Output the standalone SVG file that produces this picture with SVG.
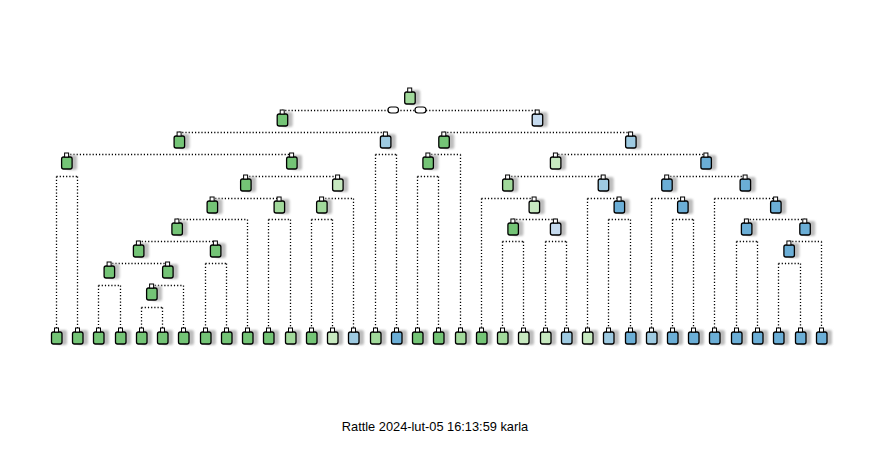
<svg xmlns="http://www.w3.org/2000/svg" xmlns:xlink="http://www.w3.org/1999/xlink" width="876" height="453" viewBox="0 0 876 453">
<style>
.edge{fill:none;stroke:#000;stroke-width:1.3;stroke-dasharray:1.2 2}
.g1{fill:#74C476}.g2{fill:#A1D99B}.g3{fill:#C7E9C0}
.b1{fill:#6BAED6}.b2{fill:#9ECAE1}.b3{fill:#C6DBEF}
.lab{fill:#fff;stroke:#000;stroke-width:1.2}
.title{font-family:"Liberation Sans",Arial,sans-serif;font-size:12.8px;fill:#000}
</style>
<defs>
<filter id="blur" x="-50%" y="-50%" width="200%" height="200%"><feGaussianBlur stdDeviation="0.9"/></filter>
<rect id="sh" x="0" y="2" width="10.5" height="15" rx="2" fill="#bdbdbd" filter="url(#blur)"/>
<rect id="box" x="-5" y="4" width="10.5" height="12" rx="2" stroke="#000" stroke-width="1.3"/>
<rect id="tab" x="-2" y="0" width="4" height="4" fill="#fff" stroke="#000" stroke-width="1"/>
</defs>
<rect width="876" height="453" fill="#fff"/>
<g id="connectors">
<path class="edge" d="M282 110.5H537 M179 132.5H385 M444 132.5H631 M67 154.5H292
M375.5 154.5H396.5 M375.5 154.5V328 M396.5 154.5V328
M428 154.5H460.5 M460.5 154.5V328
M555 154.5H706
M56.5 176.5H77.5 M56.5 176.5V328 M77.5 176.5V328
M246 176.5H338
M417.5 176.5H438.5 M417.5 176.5V328 M438.5 176.5V328
M508 176.5H603 M667 176.5H745
M212 198.5H279
M322 198.5H353.5 M353.5 198.5V328
M481.5 198.5H534 M481.5 198.5V328
M587.5 198.5H619 M587.5 198.5V328
M651.5 198.5H683 M651.5 198.5V328
M714.5 198.5H776 M714.5 198.5V328
M177 219.5H247.5 M247.5 219.5V328
M268.5 219.5H290.5 M268.5 219.5V328 M290.5 219.5V328
M311.5 219.5H332.5 M311.5 219.5V328 M332.5 219.5V328
M513 219.5H555.5
M608.5 219.5H630.5 M608.5 219.5V328 M630.5 219.5V328
M672.5 219.5H693.5 M672.5 219.5V328 M693.5 219.5V328
M746.5 219.5H805
M138.5 241.5H215.5
M502.5 241.5H523.5 M502.5 241.5V328 M523.5 241.5V328
M545.5 241.5H566.5 M545.5 241.5V328 M566.5 241.5V328
M736.5 241.5H757.5 M736.5 241.5V328 M757.5 241.5V328
M789 241.5H821.5 M821.5 241.5V328
M109 263.5H167.5
M205.5 263.5H226.5 M205.5 263.5V328 M226.5 263.5V328
M778.5 263.5H800.5 M778.5 263.5V328 M800.5 263.5V328
M98.5 285.5H120.5 M98.5 285.5V328 M120.5 285.5V328
M151.5 285.5H183.5 M183.5 285.5V328
M141.5 307.5H162.5 M141.5 307.5V328 M162.5 307.5V328"/>
</g>
<g id="root-split">
<rect class="lab" x="388" y="107" width="10.5" height="6" rx="3"/>
<rect class="lab" x="415" y="107" width="11" height="6" rx="3"/>
</g>
<g id="nodes">
<g id="nA" transform="translate(409.7 88)"><use href="#sh"/><use href="#box" class="g2"/><use href="#tab"/></g>
<g id="nB" transform="translate(282.2 110)"><use href="#sh"/><use href="#box" class="g1"/><use href="#tab"/></g>
<g id="nC" transform="translate(537.2 110)"><use href="#sh"/><use href="#box" class="b3"/><use href="#tab"/></g>
<g id="nD" transform="translate(179.1 132)"><use href="#sh"/><use href="#box" class="g1"/><use href="#tab"/></g>
<g id="nE" transform="translate(385.4 132)"><use href="#sh"/><use href="#box" class="b2"/><use href="#tab"/></g>
<g id="nF" transform="translate(443.8 132)"><use href="#sh"/><use href="#box" class="g1"/><use href="#tab"/></g>
<g id="nG" transform="translate(630.6 132)"><use href="#sh"/><use href="#box" class="b2"/><use href="#tab"/></g>
<g id="nH" transform="translate(66.6 153)"><use href="#sh"/><use href="#box" class="g1"/><use href="#tab"/></g>
<g id="nI" transform="translate(291.6 153)"><use href="#sh"/><use href="#box" class="g1"/><use href="#tab"/></g>
<g id="nJ" transform="translate(427.9 153)"><use href="#sh"/><use href="#box" class="g1"/><use href="#tab"/></g>
<g id="nK" transform="translate(555.4 153)"><use href="#sh"/><use href="#box" class="g3"/><use href="#tab"/></g>
<g id="nM" transform="translate(705.9 153)"><use href="#sh"/><use href="#box" class="b1"/><use href="#tab"/></g>
<g id="nN" transform="translate(245.6 175)"><use href="#sh"/><use href="#box" class="g1"/><use href="#tab"/></g>
<g id="nO" transform="translate(337.6 175)"><use href="#sh"/><use href="#box" class="g3"/><use href="#tab"/></g>
<g id="nP" transform="translate(507.6 175)"><use href="#sh"/><use href="#box" class="g2"/><use href="#tab"/></g>
<g id="nQ" transform="translate(603.2 175)"><use href="#sh"/><use href="#box" class="b2"/><use href="#tab"/></g>
<g id="nR" transform="translate(666.7 175)"><use href="#sh"/><use href="#box" class="b1"/><use href="#tab"/></g>
<g id="nS" transform="translate(745.1 175)"><use href="#sh"/><use href="#box" class="b1"/><use href="#tab"/></g>
<g id="nT" transform="translate(212.1 197)"><use href="#sh"/><use href="#box" class="g1"/><use href="#tab"/></g>
<g id="nU" transform="translate(279.1 197)"><use href="#sh"/><use href="#box" class="g2"/><use href="#tab"/></g>
<g id="nV" transform="translate(321.6 197)"><use href="#sh"/><use href="#box" class="g2"/><use href="#tab"/></g>
<g id="nW" transform="translate(534.1 197)"><use href="#sh"/><use href="#box" class="g3"/><use href="#tab"/></g>
<g id="nX" transform="translate(619.1 197)"><use href="#sh"/><use href="#box" class="b1"/><use href="#tab"/></g>
<g id="nY" transform="translate(682.6 197)"><use href="#sh"/><use href="#box" class="b1"/><use href="#tab"/></g>
<g id="nZ" transform="translate(775.6 197)"><use href="#sh"/><use href="#box" class="b1"/><use href="#tab"/></g>
<g id="nAA" transform="translate(176.9 219)"><use href="#sh"/><use href="#box" class="g1"/><use href="#tab"/></g>
<g id="nAB" transform="translate(512.9 219)"><use href="#sh"/><use href="#box" class="g1"/><use href="#tab"/></g>
<g id="nAC" transform="translate(555.4 219)"><use href="#sh"/><use href="#box" class="b3"/><use href="#tab"/></g>
<g id="nAD" transform="translate(746.4 219)"><use href="#sh"/><use href="#box" class="b1"/><use href="#tab"/></g>
<g id="nAE" transform="translate(804.8 219)"><use href="#sh"/><use href="#box" class="b1"/><use href="#tab"/></g>
<g id="nAF" transform="translate(138.4 241)"><use href="#sh"/><use href="#box" class="g1"/><use href="#tab"/></g>
<g id="nAG" transform="translate(215.4 241)"><use href="#sh"/><use href="#box" class="g1"/><use href="#tab"/></g>
<g id="nAH" transform="translate(788.9 241)"><use href="#sh"/><use href="#box" class="b1"/><use href="#tab"/></g>
<g id="nAI" transform="translate(109.1 262)"><use href="#sh"/><use href="#box" class="g1"/><use href="#tab"/></g>
<g id="nAJ" transform="translate(167.6 262)"><use href="#sh"/><use href="#box" class="g1"/><use href="#tab"/></g>
<g id="nAK" transform="translate(151.6 284)"><use href="#sh"/><use href="#box" class="g1"/><use href="#tab"/></g>
</g>
<g id="leaves">
<g id="L0" transform="translate(56.5 328)"><use href="#sh"/><use href="#box" class="g1"/><use href="#tab"/></g>
<g id="L1" transform="translate(77.5 328)"><use href="#sh"/><use href="#box" class="g1"/><use href="#tab"/></g>
<g id="L2" transform="translate(98.5 328)"><use href="#sh"/><use href="#box" class="g1"/><use href="#tab"/></g>
<g id="L3" transform="translate(120.5 328)"><use href="#sh"/><use href="#box" class="g1"/><use href="#tab"/></g>
<g id="L4" transform="translate(141.5 328)"><use href="#sh"/><use href="#box" class="g1"/><use href="#tab"/></g>
<g id="L5" transform="translate(162.5 328)"><use href="#sh"/><use href="#box" class="g1"/><use href="#tab"/></g>
<g id="L6" transform="translate(183.5 328)"><use href="#sh"/><use href="#box" class="g1"/><use href="#tab"/></g>
<g id="L7" transform="translate(205.5 328)"><use href="#sh"/><use href="#box" class="g1"/><use href="#tab"/></g>
<g id="L8" transform="translate(226.5 328)"><use href="#sh"/><use href="#box" class="g1"/><use href="#tab"/></g>
<g id="L9" transform="translate(247.5 328)"><use href="#sh"/><use href="#box" class="g1"/><use href="#tab"/></g>
<g id="L10" transform="translate(268.5 328)"><use href="#sh"/><use href="#box" class="g1"/><use href="#tab"/></g>
<g id="L11" transform="translate(290.5 328)"><use href="#sh"/><use href="#box" class="g2"/><use href="#tab"/></g>
<g id="L12" transform="translate(311.5 328)"><use href="#sh"/><use href="#box" class="g1"/><use href="#tab"/></g>
<g id="L13" transform="translate(332.5 328)"><use href="#sh"/><use href="#box" class="g3"/><use href="#tab"/></g>
<g id="L14" transform="translate(353.5 328)"><use href="#sh"/><use href="#box" class="b2"/><use href="#tab"/></g>
<g id="L15" transform="translate(375.5 328)"><use href="#sh"/><use href="#box" class="g2"/><use href="#tab"/></g>
<g id="L16" transform="translate(396.5 328)"><use href="#sh"/><use href="#box" class="b1"/><use href="#tab"/></g>
<g id="L17" transform="translate(417.5 328)"><use href="#sh"/><use href="#box" class="g1"/><use href="#tab"/></g>
<g id="L18" transform="translate(438.5 328)"><use href="#sh"/><use href="#box" class="g1"/><use href="#tab"/></g>
<g id="L19" transform="translate(460.5 328)"><use href="#sh"/><use href="#box" class="g2"/><use href="#tab"/></g>
<g id="L20" transform="translate(481.5 328)"><use href="#sh"/><use href="#box" class="g1"/><use href="#tab"/></g>
<g id="L21" transform="translate(502.5 328)"><use href="#sh"/><use href="#box" class="g2"/><use href="#tab"/></g>
<g id="L22" transform="translate(523.5 328)"><use href="#sh"/><use href="#box" class="g3"/><use href="#tab"/></g>
<g id="L23" transform="translate(545.5 328)"><use href="#sh"/><use href="#box" class="g3"/><use href="#tab"/></g>
<g id="L24" transform="translate(566.5 328)"><use href="#sh"/><use href="#box" class="b2"/><use href="#tab"/></g>
<g id="L25" transform="translate(587.5 328)"><use href="#sh"/><use href="#box" class="g3"/><use href="#tab"/></g>
<g id="L26" transform="translate(608.5 328)"><use href="#sh"/><use href="#box" class="b2"/><use href="#tab"/></g>
<g id="L27" transform="translate(630.5 328)"><use href="#sh"/><use href="#box" class="b1"/><use href="#tab"/></g>
<g id="L28" transform="translate(651.5 328)"><use href="#sh"/><use href="#box" class="b2"/><use href="#tab"/></g>
<g id="L29" transform="translate(672.5 328)"><use href="#sh"/><use href="#box" class="b1"/><use href="#tab"/></g>
<g id="L30" transform="translate(693.5 328)"><use href="#sh"/><use href="#box" class="b1"/><use href="#tab"/></g>
<g id="L31" transform="translate(714.5 328)"><use href="#sh"/><use href="#box" class="b1"/><use href="#tab"/></g>
<g id="L32" transform="translate(736.5 328)"><use href="#sh"/><use href="#box" class="b1"/><use href="#tab"/></g>
<g id="L33" transform="translate(757.5 328)"><use href="#sh"/><use href="#box" class="b1"/><use href="#tab"/></g>
<g id="L34" transform="translate(778.5 328)"><use href="#sh"/><use href="#box" class="b1"/><use href="#tab"/></g>
<g id="L35" transform="translate(800.5 328)"><use href="#sh"/><use href="#box" class="b1"/><use href="#tab"/></g>
<g id="L36" transform="translate(821.5 328)"><use href="#sh"/><use href="#box" class="b1"/><use href="#tab"/></g>
</g>
<text class="title" x="435" y="431" text-anchor="middle">Rattle 2024-lut-05 16:13:59 karla</text>
</svg>
